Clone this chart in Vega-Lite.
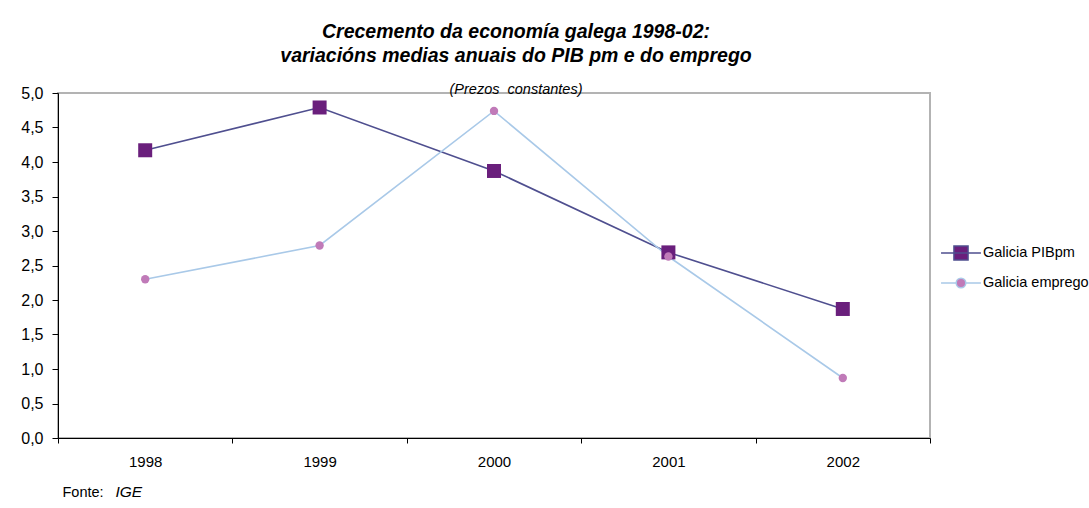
{
  "$schema": "https://vega.github.io/schema/vega-lite/v6.json",
  "autosize": {"type": "none"},
  "width": 872,
  "height": 345,
  "padding": {"left": 58, "top": 93, "right": 159, "bottom": 70},
  "background": "white",
  "config": {
    "view": {"stroke": "#b3b3b3", "strokeWidth": 2},
    "font": "Liberation Sans",
    "axis": {"domainColor": "black", "tickColor": "black", "labelColor": "black", "labelFont": "Liberation Sans", "grid": false}
  },
  "title": {
    "text": ["Crecemento da economía galega 1998-02:", "variacións medias anuais do PIB pm e do emprego"],
    "subtitle": "(Prezos\u00a0 constantes)",
    "font": "Liberation Sans",
    "fontSize": 19.5,
    "fontWeight": "bold",
    "fontStyle": "italic",
    "lineHeight": 24,
    "color": "black",
    "subtitleFont": "Liberation Sans",
    "subtitleFontSize": 14.5,
    "subtitleFontStyle": "italic",
    "subtitleColor": "black",
    "subtitlePadding": 16,
    "anchor": "middle",
    "frame": "group",
    "dx": 22,
    "offset": -12
  },
  "data": {
    "values": [
      {"year": "1998", "series": "Galicia PIBpm", "value": 4.17},
      {"year": "1999", "series": "Galicia PIBpm", "value": 4.79},
      {"year": "2000", "series": "Galicia PIBpm", "value": 3.87},
      {"year": "2001", "series": "Galicia PIBpm", "value": 2.69},
      {"year": "2002", "series": "Galicia PIBpm", "value": 1.87},
      {"year": "1998", "series": "Galicia emprego", "value": 2.3},
      {"year": "1999", "series": "Galicia emprego", "value": 2.79},
      {"year": "2000", "series": "Galicia emprego", "value": 4.74},
      {"year": "2001", "series": "Galicia emprego", "value": 2.63},
      {"year": "2002", "series": "Galicia emprego", "value": 0.87}
    ]
  },
  "encoding": {
    "x": {
      "field": "year",
      "type": "ordinal",
      "scale": {"type": "band", "paddingInner": 0, "paddingOuter": 0},
      "axis": {
        "tickBand": "extent",
        "labelAngle": 0,
        "labelFontSize": 15,
        "labelPadding": 11,
        "tickSize": 5,
        "title": "Fonte:",
        "titleFont": "Liberation Sans",
        "titleFontSize": 14.5,
        "titleFontWeight": "normal",
        "titleColor": "black",
        "titleAnchor": "start",
        "titleAlign": "left",
        "titleBaseline": "alphabetic",
        "titleX": 4,
        "titleY": 58
      }
    },
    "y": {
      "field": "value",
      "type": "quantitative",
      "scale": {"domain": [0, 5], "nice": false, "zero": true},
      "axis": {
        "values": [0, 0.5, 1, 1.5, 2, 2.5, 3, 3.5, 4, 4.5, 5],
        "labelExpr": "replace(format(datum.value, '.1f'), '.', ',')",
        "labelFontSize": 16,
        "labelPadding": 9,
        "tickSize": 6,
        "title": "IGE",
        "titleFont": "Liberation Sans",
        "titleFontSize": 15.5,
        "titleFontWeight": "normal",
        "titleFontStyle": "italic",
        "titleColor": "black",
        "titleAngle": 0,
        "titleAlign": "left",
        "titleBaseline": "alphabetic",
        "titleX": 57,
        "titleY": 403
      }
    }
  },
  "layer": [
    {
      "mark": {"type": "line", "strokeWidth": 1.6},
      "encoding": {
        "stroke": {
          "field": "series",
          "type": "nominal",
          "scale": {"domain": ["Galicia PIBpm", "Galicia emprego"], "range": ["#4f4f8f", "#a9c9e8"]},
          "legend": {
            "orient": "none",
            "legendX": 887,
            "legendY": 144,
            "title": null,
            "padding": 0,
            "rowPadding": 3,
            "symbolSize": 900,
            "symbolStrokeWidth": 1.5,
            "labelFont": "Liberation Sans",
            "labelFontSize": 14.5,
            "labelColor": "black",
            "labelOffset": 6,
            "encode": {
              "symbols": {
                "update": {
                  "shape": {"signal": "datum.value === 'Galicia PIBpm' ? 'M-1.33,0H1.33M-0.47,-0.47H0.47V0.47H-0.47Z' : 'M-1.33,0H-0.33M0.33,0H1.33M-0.32,0A0.32,0.32 0 1,0 0.32,0A0.32,0.32 0 1,0 -0.32,0Z'"},
                  "fill": {"signal": "datum.value === 'Galicia PIBpm' ? '#6a1f7c' : '#c07ab8'"},
                  "stroke": {"signal": "datum.value === 'Galicia PIBpm' ? '#4f4f8f' : '#a9c9e8'"},
                  "fillOpacity": {"value": 1},
                  "strokeWidth": {"value": 1.5}
                }
              }
            }
          }
        }
      }
    },
    {
      "mark": {"type": "point", "filled": true, "opacity": 1},
      "encoding": {
        "shape": {"condition": {"test": "datum.series === 'Galicia PIBpm'", "value": "square"}, "value": "circle"},
        "fill": {"condition": {"test": "datum.series === 'Galicia PIBpm'", "value": "#6a1f7c"}, "value": "#c07ab8"},
        "size": {"condition": {"test": "datum.series === 'Galicia PIBpm'", "value": 196}, "value": 70}
      }
    }
  ]
}
